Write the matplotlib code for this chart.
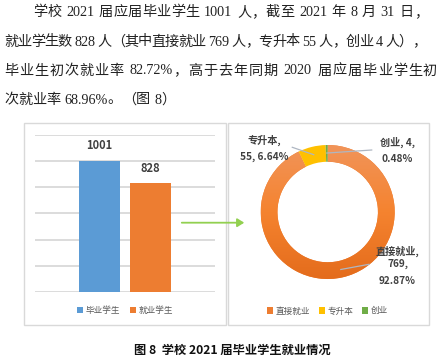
import matplotlib
matplotlib.use('Agg')
import re
import numpy as np
import matplotlib.pyplot as plt
from matplotlib.patches import Rectangle, FancyArrowPatch
from matplotlib.colors import LinearSegmentedColormap

# ---- data ----
para_lines = [
    "学校 2021 届应届毕业学生 1001 人，截至 2021 年 8 月 31 日，",
    "就业学生数 828 人（其中直接就业 769 人，专升本 55 人，创业 4 人），",
    "毕业生初次就业率 82.72%，高于去年同期 2020 届应届毕业学生初",
    "次就业率 68.96%。（图 8）",
]
bar_labels = ["毕业学生", "就业学生"]
bar_values = [1001, 828]
bar_colors = ["#5B9BD5", "#ED7D31"]

pie_labels = ["直接就业", "专升本", "创业"]
pie_values = [769, 55, 4]
pie_pcts = ["92.87%", "6.64%", "0.48%"]
pie_colors = ["#ED7D31", "#FFC000", "#70AD47"]

caption = "图 8  学校 2021 届毕业学生就业情况"

W, H = 447, 363
SERIF = ["Liberation Serif", "Noto Sans CJK SC"]
CJK = ["Noto Sans CJK SC", "DejaVu Sans"]


def fx(px):
    return px / W


def fy(py):
    return 1 - py / H


fig = plt.figure(figsize=(W / 100, H / 100), dpi=100)
renderer = fig.canvas.get_renderer()


def justified(line, x0, x1, y, size):
    # place tokens one by one so the line fills x0..x1 (x1=None: natural spacing)
    tokens = re.findall(r" |[!-~]+|.", line)
    arts, widths = [], []
    for t in tokens:
        if t == " ":
            arts.append(None)
            widths.append(0.28 * size * 100 / 72)
            continue
        a = fig.text(0, fy(y), t, family=SERIF, fontsize=size, color="#222222",
                     ha="left", va="center")
        arts.append(a)
        widths.append(a.get_window_extent(renderer).width)
    gap = 0.0
    if x1 is not None and len(tokens) > 1:
        gap = (x1 - x0 - sum(widths)) / (len(tokens) - 1)
    x = x0
    for a, w in zip(arts, widths):
        if a is not None:
            a.set_x(fx(x))
        x += w + gap


justified(para_lines[0], 33, 428, 12.5, 10.2)
justified(para_lines[1], 4, 426, 42, 10.2)
justified(para_lines[2], 4, 437, 71, 10.2)
justified(para_lines[3], 4, None, 100, 10.2)

# panel boxes
for x0, x1 in [(24, 226), (227.5, 429)]:
    fig.add_artist(Rectangle((fx(x0), fy(325)), fx(x1) - fx(x0), fy(123) - fy(325),
                             transform=fig.transFigure, fill=False,
                             edgecolor="#D9D9D9", lw=1))

# ---- bar chart ----
ax = fig.add_axes([fx(35), fy(292), fx(215) - fx(35), fy(134.7) - fy(292)])
xpos = np.arange(len(bar_values))
bars = ax.bar(xpos, bar_values, width=0.8, color=bar_colors, zorder=3)
ax.set_ylim(0, 1200)
ax.set_xlim(-1.265, 2.265)
ax.set_yticks(np.arange(0, 1201, 200))
ax.yaxis.grid(True, color="#D9D9D9", lw=1.3)
ax.set_axisbelow(True)
for s in ax.spines.values():
    s.set_visible(False)
ax.tick_params(left=False, bottom=False, labelleft=False, labelbottom=False)
for b, v in zip(bars, bar_values):
    ax.annotate(str(v), (b.get_x() + b.get_width() / 2, v), xytext=(0, 6),
                textcoords="offset points", ha="center", va="bottom",
                family=CJK, fontsize=8, fontweight="bold", color="#404040")
ax.legend(bars, bar_labels, loc="upper center", bbox_to_anchor=(0.5, -0.04),
          ncol=2, frameon=False, prop={"family": CJK, "size": 6.2},
          labelcolor="#595959", handlelength=0.7, handleheight=0.7,
          handletextpad=0.3, columnspacing=1.2)

# ---- donut chart ----
cx, cy, r = 327.7, 212, 67
ax2 = fig.add_axes([fx(cx - r), fy(cy + r), 2 * r / W, 2 * r / H])
wedges, _ = ax2.pie(pie_values, colors=pie_colors, startangle=90, counterclock=False,
                    wedgeprops=dict(width=0.25, edgecolor="none"))
ax2.set_xlim(-1, 1)
ax2.set_ylim(-1, 1)

# soft vertical shading on the big slice, like the Office gradient fill
shade = LinearSegmentedColormap.from_list("shade", ["#E46C1C", "#F5832F", "#F19459"])
grad = ax2.imshow(np.linspace(0, 1, 100).reshape(-1, 1), cmap=shade, origin="lower",
                  extent=(-1, 1, -1, 1), aspect="auto", zorder=wedges[0].get_zorder())
grad.set_clip_path(wedges[0])
for w in wedges[1:]:
    w.set_zorder(grad.get_zorder() + 0.1)

# data labels with leader lines
label_px = [(397.5, [(251, "直接就业,"), (264.3, "769,"), (281, pie_pcts[0])], (369, 264.3)),
            (264.5, [(140.7, "专升本,"), (157.3, f"{pie_values[1]}, {pie_pcts[1]}")], (292.3, 147.3)),
            (397, [(142.7, f"创业, {pie_values[2]},"), (159, pie_pcts[2])], (371.7, 150))]
for w, (lx, rows, (ex, ey)) in zip(wedges, label_px):
    for ly, txt in rows:
        fig.text(fx(lx), fy(ly), txt, family=CJK, fontsize=7.3, fontweight="bold",
                 color="#404040", ha="center", va="center")
    mid = np.deg2rad((w.theta1 + w.theta2) / 2)
    x0, y0 = 0.88 * np.cos(mid), 0.88 * np.sin(mid)
    ax2.plot([x0, (ex - cx) / r], [y0, (cy - ey) / r], color="#AEB6C2",
             lw=0.9, clip_on=False, zorder=5)

ax2.legend(wedges, pie_labels, loc="center", bbox_to_anchor=(0.5, (cy - 311) / (2 * r) + 0.5),
           ncol=3, frameon=False, prop={"family": CJK, "size": 6.2},
           labelcolor="#595959", handlelength=0.7, handleheight=0.7,
           handletextpad=0.3, columnspacing=1.0)

# connecting arrow
fig.add_artist(FancyArrowPatch((fx(179), fy(222.7)), (fx(247), fy(222.7)),
                               transform=fig.transFigure, arrowstyle="-|>,head_length=4,head_width=2.5",
                               color="#92D050", lw=1.3))

fig.text(fx(232.5), fy(350), caption, family=CJK, fontsize=8.8, fontweight="bold",
         color="#111111", ha="center", va="center")

fig.savefig("out.png", dpi=100)
